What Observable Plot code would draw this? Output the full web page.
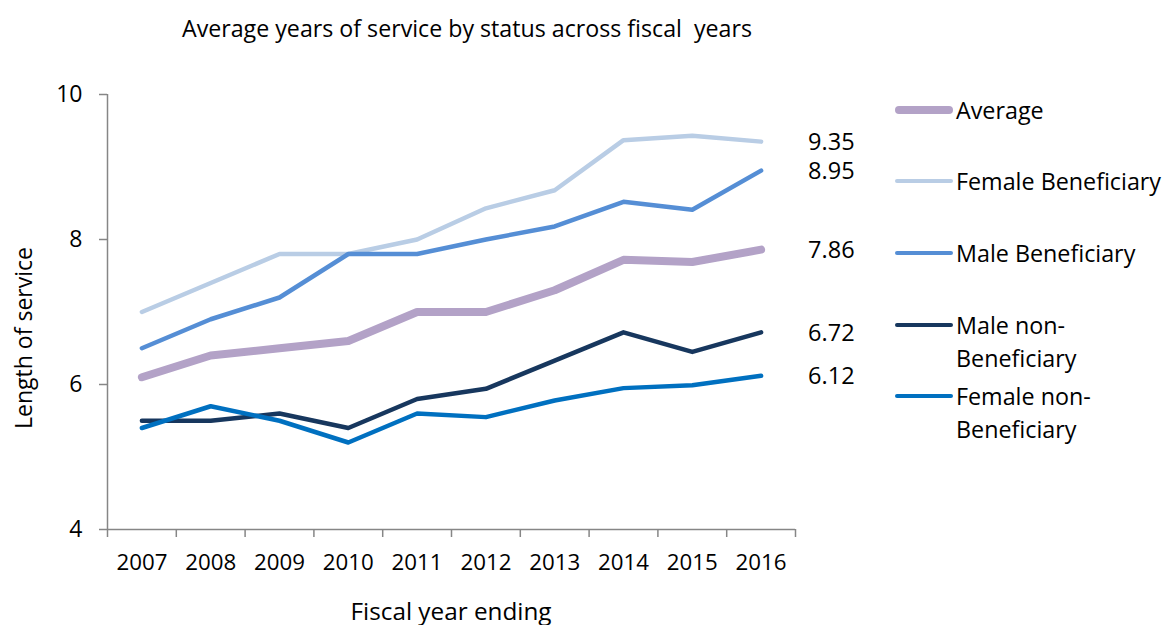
<!DOCTYPE html>
<html>
<head>
<meta charset="utf-8">
<script src="https://cdn.jsdelivr.net/npm/d3@7"></script>
<script src="https://cdn.jsdelivr.net/npm/@observablehq/plot@0.6"></script>
<style>
  html, body { margin: 0; padding: 0; background: #fff; }
  #wrap { position: relative; width: 1162px; height: 625px; font-family: "Open Sans", Lato, sans-serif; color: #000; }
  #wrap svg { position: absolute; left: 0; top: 0; }
  .abs { position: absolute; white-space: nowrap; line-height: 1; }
  .leg { position: absolute; left: 895px; }
  .leg .sw { position: absolute; left: 0; width: 58px; border-radius: 4px; }
  .leg .lt { position: absolute; left: 61px; font-size: 23.3px; line-height: 33px; white-space: nowrap; }
</style>
</head>
<body>
<div id="wrap"></div>
<script>
const years = [2007, 2008, 2009, 2010, 2011, 2012, 2013, 2014, 2015, 2016];
const seriesNames = ["Average", "Female Beneficiary", "Male Beneficiary", "Male non-Beneficiary", "Female non-Beneficiary"];
const average = [6.10, 6.40, 6.50, 6.60, 7.00, 7.00, 7.30, 7.72, 7.69, 7.86];
const femaleBeneficiary = [7.00, 7.40, 7.80, 7.80, 8.00, 8.43, 8.68, 9.37, 9.43, 9.35];
const maleBeneficiary = [6.50, 6.90, 7.20, 7.80, 7.80, 8.00, 8.18, 8.52, 8.41, 8.95];
const maleNonBeneficiary = [5.50, 5.50, 5.60, 5.40, 5.80, 5.94, 6.33, 6.72, 6.45, 6.72];
const femaleNonBeneficiary = [5.40, 5.70, 5.50, 5.20, 5.60, 5.55, 5.78, 5.95, 5.99, 6.12];
const yTicks = [4, 6, 8, 10];

const seriesColors = ["#b3a2c7", "#b9cde5", "#558ed5", "#17375e", "#0070c0"];
const seriesWidths = [8, 4.5, 4.5, 4.5, 4.5];
const seriesValues = [average, femaleBeneficiary, maleBeneficiary, maleNonBeneficiary, femaleNonBeneficiary];

const rows = [];
seriesNames.forEach((s, i) => years.forEach((yr, j) => rows.push({series: s, year: yr, value: seriesValues[i][j]})));
const lastRows = rows.filter(d => d.year === years[years.length - 1]);
const boundaries = [years[0] - 0.5, ...years.map(y => y + 0.5)];

const axisColor = "#868686";
const marks = [
  Plot.ruleX([boundaries[0]], {y1: yTicks[0], y2: yTicks[yTicks.length - 1], stroke: axisColor, strokeWidth: 1.5}),
  Plot.ruleY([yTicks[0]], {x1: boundaries[0], x2: boundaries[boundaries.length - 1], stroke: axisColor, strokeWidth: 1.5}),
  Plot.axisY(yTicks, {tickSize: 8, tickPadding: 17, fontSize: 23, stroke: axisColor, strokeWidth: 1.5, label: null, tickFormat: d => String(d), color: "#000"}),
  Plot.axisX(boundaries, {tickSize: 8, tickFormat: () => "", stroke: axisColor, strokeWidth: 1.5, label: null}),
  Plot.axisX(years, {tickSize: 0, tickPadding: 25, fontSize: 22.3, tickFormat: d => String(d), label: null}),
];
seriesNames.forEach((s, i) => {
  marks.push(Plot.lineY(rows.filter(d => d.series === s), {
    x: "year", y: "value", stroke: seriesColors[i], strokeWidth: seriesWidths[i],
    strokeLinecap: "round", strokeLinejoin: "round"
  }));
});
marks.push(Plot.text(lastRows, {x: "year", y: "value", text: d => d.value.toFixed(2), dx: 47, dy: 1, textAnchor: "start", fontSize: 23.5, fill: "#000"}));

const chart = Plot.plot({
  width: 1162, height: 625,
  marginLeft: 107, marginRight: 367, marginTop: 94, marginBottom: 96,
  style: {fontFamily: "'Open Sans', Lato, sans-serif", background: "#fff", color: "#000"},
  x: {domain: [boundaries[0], boundaries[boundaries.length - 1]], axis: null},
  y: {domain: [yTicks[0], yTicks[yTicks.length - 1]], axis: null},
  marks
});
const wrap = document.getElementById("wrap");
wrap.appendChild(chart);

function addText(txt, style) {
  const d = document.createElement("div");
  d.className = "abs";
  d.textContent = txt;
  Object.assign(d.style, style);
  wrap.appendChild(d);
  return d;
}
addText("Average years of service by status across fiscal\u00a0 years", {left: "467px", top: "17px", fontSize: "23.2px", transform: "translateX(-50%)"});
addText("Fiscal year ending", {left: "451px", top: "599px", fontSize: "24.3px", transform: "translateX(-50%)"});
addText("Length of service", {left: "23px", top: "338px", fontSize: "23px", transform: "translate(-50%,-50%) rotate(-90deg)"});

// legend
const legendItems = [
  {name: seriesNames[0], lines: ["Average"], y: 110},
  {name: seriesNames[1], lines: ["Female Beneficiary"], y: 181},
  {name: seriesNames[2], lines: ["Male Beneficiary"], y: 253},
  {name: seriesNames[3], lines: ["Male non-", "Beneficiary"], y: 325},
  {name: seriesNames[4], lines: ["Female non-", "Beneficiary"], y: 396},
];
legendItems.forEach(item => {
  const i = seriesNames.indexOf(item.name);
  const g = document.createElement("div");
  g.className = "leg";
  g.style.top = item.y + "px";
  const sw = document.createElement("div");
  sw.className = "sw";
  sw.style.background = seriesColors[i];
  sw.style.height = seriesWidths[i] + "px";
  sw.style.top = (-seriesWidths[i] / 2) + "px";
  g.appendChild(sw);
  item.lines.forEach((ln, k) => {
    const t = document.createElement("div");
    t.className = "lt";
    t.textContent = ln;
    t.style.top = (-16.5 + k * 33) + "px";
    g.appendChild(t);
  });
  wrap.appendChild(g);
});
</script>
</body>
</html>
